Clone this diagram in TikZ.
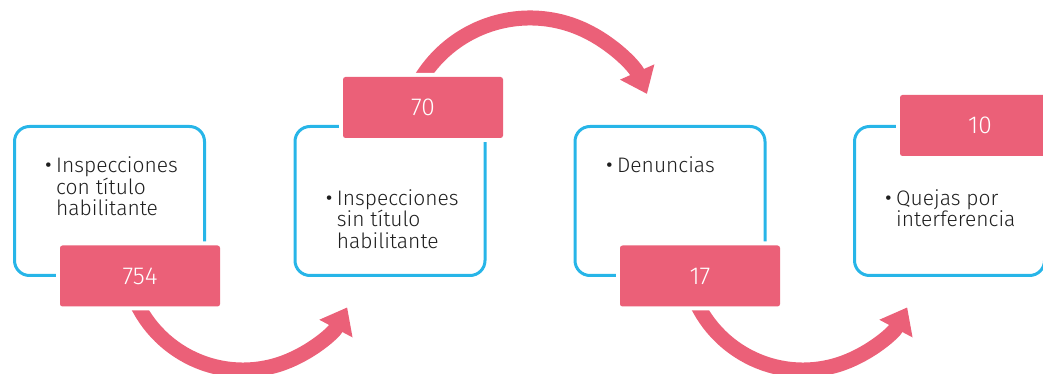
\documentclass[tikz,border=0pt]{standalone}
\usepackage{fontspec}
\setmainfont{Fira Sans Light}
\usetikzlibrary{arrows.meta}
\definecolor{rosa}{HTML}{EB6078}
\definecolor{celeste}{HTML}{27B5E8}
\definecolor{tinta}{HTML}{1E1E1E}
\newcommand{\punto}{\llap{\raisebox{-3pt}{\fontsize{30}{30}\selectfont\textbullet}\hspace{3.5pt}}}
\begin{document}
\begin{tikzpicture}[x=1pt, y=1pt,
    caja/.style={draw=celeste, line width=3pt, rounded corners=15pt, minimum width=190pt, minimum height=149pt, inner sep=0pt},
    cifra/.style={fill=rosa, rounded corners=2.5pt, minimum width=160pt, minimum height=61pt, inner sep=0pt, text=white, font=\fontsize{24.5}{26}\selectfont, preaction={draw=white, line width=8pt}},
    texto/.style={anchor=north west, inner sep=0pt, align=left, text=tinta, font=\fontsize{21}{21.7}\selectfont},
    flecha/.style={draw=rosa, line width=15pt, -{Triangle[length=24pt, width=36pt]}}]
      \useasboundingbox (0,0) rectangle (1043,374);
      \clip (0,0) rectangle (1043,374);

      \node[caja] (b1) at (109.5,173) {};
      \node[caja] (b2) at (390,173) {};
      \node[caja] (b3) at (670,173) {};
      \node[caja] (b4) at (949.5,173) {};

      \coordinate (a1) at ([shift={(200:118)}]243,122);
      \coordinate (a2) at ([shift={(155:128)}]530,228);
      \coordinate (a3) at ([shift={(200:118)}]803,122);

      \draw[flecha] (a1) arc[start angle=200, end angle=332, radius=118];
      \draw[flecha] (a2) arc[start angle=155, end angle=24, radius=128];
      \draw[flecha] (a3) arc[start angle=200, end angle=332, radius=118];

      \node[cifra] (n1) at (140,98) {754};
      \node[cifra] (n2) at (423,266.5) {70};
      \node[cifra] (n3) at (700,98) {17};
      \node[cifra] (n4) at (980,248.5) {10};

      \node[texto] (t1) at (56,217.5) {\punto Inspecciones\\con título\\habilitante};
      \node[texto] (t2) at (336.7,185) {\punto Inspecciones\\sin título\\habilitante};
      \node[texto] (t3) at (617,217.5) {\punto Denuncias};
      \node[texto] (t4) at (896,185) {\punto Quejas por\\interferencia};
    \end{tikzpicture}
\end{document}
